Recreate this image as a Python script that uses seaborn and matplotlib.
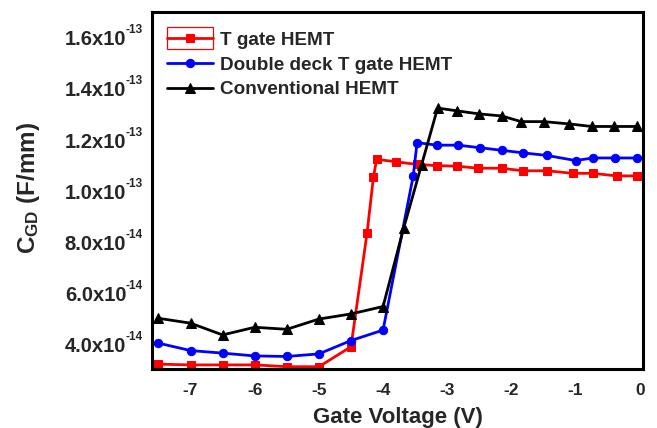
import matplotlib
matplotlib.use("Agg")
import matplotlib.pyplot as plt
import matplotlib.transforms as mtransforms
import seaborn as sns
import pandas as pd
from matplotlib.patches import Rectangle
from matplotlib.ticker import FixedLocator, FixedFormatter

sns.set_style("white")
plt.rcParams['font.family'] = ['Liberation Sans', 'DejaVu Sans']
plt.rcParams['font.weight'] = 'bold'
plt.rcParams['mathtext.fontset'] = 'custom'
plt.rcParams['mathtext.rm'] = 'Liberation Sans:bold'
plt.rcParams['mathtext.bf'] = 'Liberation Sans:bold'
plt.rcParams['mathtext.it'] = 'Liberation Sans:bold'

# T gate HEMT
t_gate_v = [-7.5, -7.0, -6.5, -6.0, -5.5, -5.0, -4.5, -4.25, -4.15, -4.1, -3.8, -3.47,
            -3.16, -2.85, -2.52, -2.15, -1.82, -1.45, -1.04, -0.73, -0.36, -0.05]
t_gate_c = [3.25e-14, 3.22e-14, 3.22e-14, 3.22e-14, 3.15e-14, 3.15e-14, 3.93e-14, 8.36e-14,
            10.55e-14, 11.25e-14, 11.15e-14, 11.05e-14, 11.0e-14, 10.98e-14, 10.9e-14,
            10.9e-14, 10.8e-14, 10.8e-14, 10.7e-14, 10.7e-14, 10.6e-14, 10.6e-14]

# Double deck T gate HEMT
dd_v = [-7.5, -7.0, -6.5, -6.0, -5.5, -5.0, -4.5, -4.0, -3.53, -3.47, -3.16, -2.83,
        -2.49, -2.15, -1.82, -1.45, -1.0, -0.73, -0.39, -0.05]
dd_c = [4.07e-14, 3.78e-14, 3.68e-14, 3.57e-14, 3.55e-14, 3.65e-14, 4.17e-14, 4.58e-14,
        10.6e-14, 11.9e-14, 11.8e-14, 11.8e-14, 11.7e-14, 11.6e-14, 11.5e-14, 11.4e-14,
        11.2e-14, 11.3e-14, 11.3e-14, 11.3e-14]

# Conventional HEMT
conv_v = [-7.5, -7.0, -6.5, -6.0, -5.5, -5.0, -4.5, -4.0, -3.68, -3.4, -3.15, -2.85,
          -2.5, -2.15, -1.85, -1.5, -1.1, -0.75, -0.4, -0.05]
conv_c = [5.04e-14, 4.85e-14, 4.39e-14, 4.69e-14, 4.61e-14, 5.01e-14, 5.21e-14, 5.5e-14,
          8.55e-14, 11.03e-14, 13.25e-14, 13.14e-14, 13.02e-14, 12.94e-14, 12.72e-14,
          12.72e-14, 12.63e-14, 12.53e-14, 12.53e-14, 12.53e-14]

series_names = ["T gate HEMT", "Double deck T gate HEMT", "Conventional HEMT"]
colors = ["#ff0000", "#0000ff", "#000000"]
markers = ["s", "o", "^"]

y_ticks = [4.0e-14, 6.0e-14, 8.0e-14, 1.0e-13, 1.2e-13, 1.4e-13, 1.6e-13]
y_tick_mantissas = ["4.0x10", "6.0x10", "8.0x10", "1.0x10", "1.2x10", "1.4x10", "1.6x10"]
y_tick_exponents = ["-14", "-14", "-14", "-13", "-13", "-13", "-13"]
x_ticks = [-7, -6, -5, -4, -3, -2, -1, 0]
x_tick_labels = ["-7", "-6", "-5", "-4", "-3", "-2", "-1", "0"]

df = pd.concat([
    pd.DataFrame({"V": t_gate_v, "C": t_gate_c, "s": series_names[0]}),
    pd.DataFrame({"V": dd_v, "C": dd_c, "s": series_names[1]}),
    pd.DataFrame({"V": conv_v, "C": conv_c, "s": series_names[2]}),
], ignore_index=True)

W, H = 657, 428
fig = plt.figure(figsize=(W / 100, H / 100), dpi=100)
ax_l, ax_r, ax_t, ax_b = 152, 643, 12, 369
ax = fig.add_axes([ax_l / W, 1 - ax_b / H, (ax_r - ax_l) / W, (ax_b - ax_t) / H])

msizes = [6, 6, 7]
for name, col, mk, ms in zip(series_names, colors, markers, msizes):
    sub = df[df["s"] == name]
    sns.lineplot(data=sub, x="V", y="C", ax=ax, color=col, marker=mk, markersize=ms,
                 markeredgecolor=col, linewidth=2, label=name, sort=False,
                 estimator=None, clip_on=True)

ax.set_xlim(-7.6, 0.05)
ax.set_ylim(3.06e-14, 1.70e-13)
ax.xaxis.set_major_locator(FixedLocator(x_ticks))
ax.xaxis.set_major_formatter(FixedFormatter(x_tick_labels))
ax.yaxis.set_major_locator(FixedLocator(y_ticks))
ax.yaxis.set_major_formatter(FixedFormatter(y_tick_mantissas))
ax.tick_params(axis='x', length=0, labelsize=12.5, pad=10)
ax.tick_params(axis='y', length=0, labelsize=14.5, pad=18.5)
for lbl in ax.get_xticklabels() + ax.get_yticklabels():
    lbl.set_fontweight('bold')

# small superscript exponents after the y tick labels
exp_trans = mtransforms.blended_transform_factory(ax.transAxes, ax.transData) + \
    mtransforms.ScaledTranslation(0, 7.5 / 100, fig.dpi_scale_trans)
for yv, ex in zip(y_ticks, y_tick_exponents):
    ax.text(-(ax_l - 126) / (ax_r - ax_l), yv, ex, transform=exp_trans, ha='left',
            va='center', fontsize=8.5, fontweight='bold', clip_on=False)

for sp in ax.spines.values():
    sp.set_visible(True)
    sp.set_linewidth(2.2)
    sp.set_color("black")

ax.set_xlabel("Gate Voltage (V)", fontsize=16, fontweight='bold', labelpad=6.5)
ax.set_ylabel(r"$\mathbf{C_{GD}}$ (F/mm)", fontsize=17.5, fontweight='bold')
ax.yaxis.set_label_coords(-(ax_l - 42) / (ax_r - ax_l), 0.507)
ax.grid(False)

leg = ax.legend(loc="upper left", frameon=False, handlelength=2.45,
                handletextpad=0.37, labelspacing=0.4, borderaxespad=0.0,
                bbox_to_anchor=(7.0 / (ax_r - ax_l), 1 - 12.0 / (ax_b - ax_t)),
                prop={'weight': 'bold', 'size': 13.6})

# selection box around the first legend handle (as in the reference)
fig.patches.append(Rectangle((167.3 / W, 1 - 49.0 / H), 46 / W, 22.3 / H,
                             transform=fig.transFigure, fill=False,
                             edgecolor="#ff0000", linewidth=0.9))

fig.savefig("out.png", dpi=100)
